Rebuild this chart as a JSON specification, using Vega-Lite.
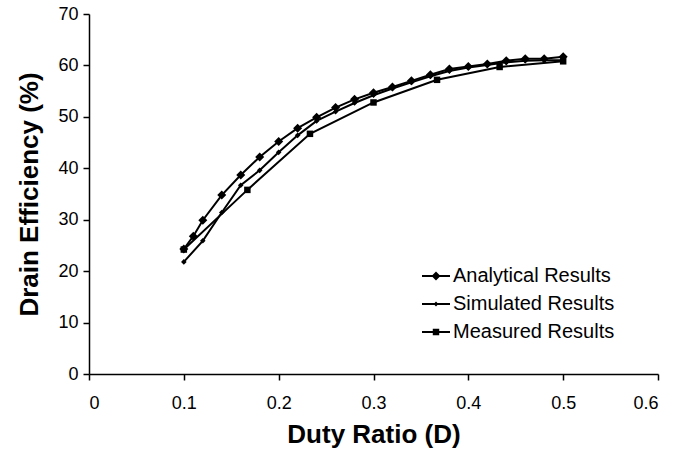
{
  "$schema": "https://vega.github.io/schema/vega-lite/v6.json",
  "width": 569,
  "height": 360,
  "autosize": {"type": "none"},
  "padding": {"left": 89, "top": 14, "right": 28, "bottom": 85},
  "background": "white",
  "config": {
    "view": {"stroke": null},
    "font": "Liberation Sans",
    "axis": {
      "grid": false,
      "domainColor": "black",
      "domainWidth": 1.5,
      "tickColor": "black",
      "tickWidth": 1.5,
      "tickSize": 6,
      "labelColor": "black",
      "labelFont": "Liberation Sans",
      "labelFontSize": 18,
      "titleColor": "black",
      "titleFont": "Liberation Sans",
      "titleFontWeight": "bold",
      "titleFontSize": 26
    }
  },
  "data": {
    "values": [
      {"series": "Analytical Results", "d": 0.10, "eff": 24.3},
      {"series": "Analytical Results", "d": 0.11, "eff": 26.8},
      {"series": "Analytical Results", "d": 0.12, "eff": 29.9},
      {"series": "Analytical Results", "d": 0.14, "eff": 34.8},
      {"series": "Analytical Results", "d": 0.16, "eff": 38.7},
      {"series": "Analytical Results", "d": 0.18, "eff": 42.2},
      {"series": "Analytical Results", "d": 0.20, "eff": 45.2},
      {"series": "Analytical Results", "d": 0.22, "eff": 47.8},
      {"series": "Analytical Results", "d": 0.24, "eff": 49.9},
      {"series": "Analytical Results", "d": 0.26, "eff": 51.8},
      {"series": "Analytical Results", "d": 0.28, "eff": 53.4},
      {"series": "Analytical Results", "d": 0.30, "eff": 54.7},
      {"series": "Analytical Results", "d": 0.32, "eff": 55.8},
      {"series": "Analytical Results", "d": 0.34, "eff": 57.0},
      {"series": "Analytical Results", "d": 0.36, "eff": 58.2},
      {"series": "Analytical Results", "d": 0.38, "eff": 59.3},
      {"series": "Analytical Results", "d": 0.40, "eff": 59.8},
      {"series": "Analytical Results", "d": 0.42, "eff": 60.3},
      {"series": "Analytical Results", "d": 0.44, "eff": 60.9},
      {"series": "Analytical Results", "d": 0.46, "eff": 61.3},
      {"series": "Analytical Results", "d": 0.48, "eff": 61.3},
      {"series": "Analytical Results", "d": 0.50, "eff": 61.7},
      {"series": "Simulated Results", "d": 0.10, "eff": 21.8},
      {"series": "Simulated Results", "d": 0.12, "eff": 25.9},
      {"series": "Simulated Results", "d": 0.14, "eff": 31.4},
      {"series": "Simulated Results", "d": 0.16, "eff": 36.7},
      {"series": "Simulated Results", "d": 0.18, "eff": 39.6},
      {"series": "Simulated Results", "d": 0.20, "eff": 43.1},
      {"series": "Simulated Results", "d": 0.22, "eff": 46.4},
      {"series": "Simulated Results", "d": 0.24, "eff": 49.2},
      {"series": "Simulated Results", "d": 0.26, "eff": 51.0},
      {"series": "Simulated Results", "d": 0.28, "eff": 52.7},
      {"series": "Simulated Results", "d": 0.30, "eff": 54.2},
      {"series": "Simulated Results", "d": 0.32, "eff": 55.5},
      {"series": "Simulated Results", "d": 0.34, "eff": 56.7},
      {"series": "Simulated Results", "d": 0.36, "eff": 57.9},
      {"series": "Simulated Results", "d": 0.38, "eff": 58.9},
      {"series": "Simulated Results", "d": 0.40, "eff": 59.6},
      {"series": "Simulated Results", "d": 0.42, "eff": 60.1},
      {"series": "Simulated Results", "d": 0.44, "eff": 60.6},
      {"series": "Simulated Results", "d": 0.46, "eff": 60.9},
      {"series": "Simulated Results", "d": 0.48, "eff": 61.0},
      {"series": "Simulated Results", "d": 0.50, "eff": 61.0},
      {"series": "Measured Results", "d": 0.100, "eff": 24.2},
      {"series": "Measured Results", "d": 0.167, "eff": 35.8},
      {"series": "Measured Results", "d": 0.233, "eff": 46.7},
      {"series": "Measured Results", "d": 0.300, "eff": 52.8},
      {"series": "Measured Results", "d": 0.367, "eff": 57.2},
      {"series": "Measured Results", "d": 0.433, "eff": 59.7},
      {"series": "Measured Results", "d": 0.500, "eff": 60.8}
    ]
  },
  "encoding": {
    "x": {
      "field": "d",
      "type": "quantitative",
      "scale": {"domain": [0, 0.6], "nice": false, "zero": false},
      "axis": {
        "title": "Duty Ratio (D)",
        "values": [0, 0.1, 0.2, 0.3, 0.4, 0.5, 0.6],
        "format": "~g",
        "labelPadding": 14,
        "titlePadding": 9
      }
    },
    "y": {
      "field": "eff",
      "type": "quantitative",
      "scale": {"domain": [0, 70], "nice": false},
      "axis": {
        "title": "Drain Efficiency (%)",
        "values": [0, 10, 20, 30, 40, 50, 60, 70],
        "format": "d",
        "labelPadding": 5,
        "titlePadding": 15
      }
    }
  },
  "resolve": {"scale": {"shape": "independent"}, "legend": {"shape": "independent"}},
  "layer": [
    {
      "mark": {"type": "line", "color": "black", "strokeWidth": 2},
      "encoding": {"detail": {"field": "series", "type": "nominal"}}
    },
    {
      "mark": {"type": "point", "filled": true, "color": "black", "opacity": 1, "size": 81},
      "encoding": {
        "shape": {
          "field": "series",
          "type": "nominal",
          "legend": null,
          "scale": {
            "domain": ["Analytical Results", "Simulated Results", "Measured Results"],
            "range": [
              "M0,-1L1,0L0,1L-1,0Z",
              "M0,-0.62L0.62,0L0,0.62L-0.62,0Z",
              "M-0.72,-0.72H0.72V0.72H-0.72Z"
            ]
          }
        }
      }
    },
    {
      "transform": [{"filter": "datum.d < 0"}],
      "mark": {"type": "point", "filled": true, "color": "black", "opacity": 1, "size": 81},
      "encoding": {
        "shape": {
          "field": "series",
          "type": "nominal",
          "scale": {
            "domain": ["Analytical Results", "Simulated Results", "Measured Results"],
            "range": [
              "M-1,-0.07H1V0.07H-1ZM0,-0.32L0.32,0L0,0.32L-0.32,0Z",
              "M-1,-0.07H1V0.07H-1ZM0,-0.17L0.17,0L0,0.17L-0.17,0Z",
              "M-1,-0.07H1V0.07H-1ZM-0.23,-0.23H0.23V0.23H-0.23Z"
            ]
          },
          "legend": {
            "title": null,
            "orient": "none",
            "legendX": 333,
            "legendY": 248,
            "padding": 0,
            "rowPadding": 4,
            "symbolSize": 784,
            "symbolFillColor": "black",
            "symbolStrokeWidth": 0,
            "labelOffset": 3,
            "labelFont": "Liberation Sans",
            "labelFontSize": 20,
            "labelColor": "black",
            "labelLimit": 300
          }
        }
      }
    }
  ]
}
